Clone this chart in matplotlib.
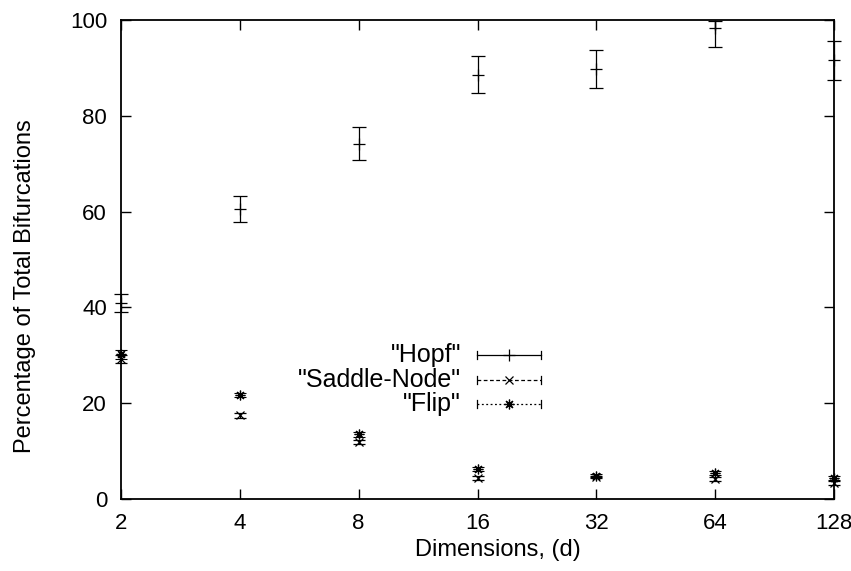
import numpy as np
import matplotlib
matplotlib.use("Agg")
import matplotlib.pyplot as plt

dims = [2, 4, 8, 16, 32, 64, 128]
xtick_labels = ["2", "4", "8", "16", "32", "64", "128"]

hopf = [40.9, 60.5, 74.2, 88.6, 89.8, 98.4, 91.6]
hopf_low = [39.0, 57.9, 70.8, 84.7, 85.8, 94.4, 87.5]
hopf_high = [42.8, 63.2, 77.6, 92.5, 93.7, 99.7, 95.6]

saddle = [29.2, 17.5, 11.9, 4.4, 4.6, 4.1, 3.3]
saddle_err = [0.9, 0.5, 0.5, 0.4, 0.3, 0.4, 0.4]

flip = [30.2, 21.7, 13.5, 6.3, 4.9, 5.5, 4.4]
flip_err = [0.9, 0.5, 0.5, 0.4, 0.3, 0.4, 0.4]

plt.rcParams['font.family'] = ['Liberation Sans', 'DejaVu Sans']

fig = plt.figure(figsize=(8.51, 5.71), dpi=100)
ax = fig.add_axes([121/851, 1-499/571, (834-121)/851, (499-20)/571])

ax.set_xscale('log', base=2)
ax.set_xlim(2, 128)
ax.set_ylim(0, 100)

hx = np.array(hopf)
yerr_h = [hx - np.array(hopf_low), np.array(hopf_high) - hx]
ax.errorbar(dims, hopf, yerr=yerr_h, fmt='+', color='black', ms=8, mew=0.9,
            elinewidth=0.9, capsize=5, capthick=0.9, clip_on=False, zorder=3)
ax.errorbar(dims, saddle, yerr=saddle_err, fmt='x', color='black', ms=6, mew=0.9,
            elinewidth=0.8, capsize=4, capthick=0.8, clip_on=False, zorder=3)
ax.errorbar(dims, flip, yerr=flip_err, fmt='none', ecolor='black',
            elinewidth=0.8, capsize=4, capthick=0.8, clip_on=False, zorder=3)
ax.plot(dims, flip, linestyle='none', marker=(8, 2, 0), color='black', ms=7,
        mew=0.9, clip_on=False, zorder=3)

FS = 16
ax.set_xticks(dims)
ax.set_xticklabels(xtick_labels)
ax.xaxis.set_minor_locator(matplotlib.ticker.NullLocator())
ax.set_yticks([0, 20, 40, 60, 80, 100])
ax.tick_params(direction='in', length=7, width=1, labelsize=FS,
               top=True, right=True, colors='black')
ax.tick_params(axis='x', pad=10)
ax.tick_params(axis='y', pad=10)
for s in ax.spines.values():
    s.set_linewidth(1.3)

xl = ax.set_xlabel("Dimensions, (d)", fontsize=17)
xl.set_va('center')
ax.xaxis.set_label_coords((498-121)/713, (499-550)/479)
yl = ax.set_ylabel("Percentage of Total Bifurcations", fontsize=17)
yl.set_va('center')
ax.yaxis.set_label_coords((25-121)/713, (499-286)/479)

# legend (gnuplot style)
lx0, lx1 = (477-121)/713, (541-121)/713
lxm = (lx0 + lx1) / 2
tx = (461-121)/713
entries = [
    ('"Hopf"', (499-355)/479, '-', '+', 8),
    ('"Saddle-Node"', (499-380)/479, (0, (3, 2)), 'x', 6),
    ('"Flip"', (499-404)/479, (0, (1.5, 2)), (8, 2, 0), 7),
]
for label, ly, ls, mk, ms in entries:
    ax.text(tx, ly, label, transform=ax.transAxes, ha='right', va='center',
            fontsize=18)
    ax.plot([lx0, lx1], [ly, ly], transform=ax.transAxes, color='black',
            linestyle=ls, lw=0.9, clip_on=False)
    for ex in (lx0, lx1):
        ax.plot([ex, ex], [ly-0.009, ly+0.009], transform=ax.transAxes,
                color='black', lw=0.9, clip_on=False)
    ax.plot([lxm], [ly], transform=ax.transAxes, marker=mk, ms=ms, mew=0.9,
            color='black', linestyle='none', clip_on=False)

fig.savefig("out.png", dpi=100)
